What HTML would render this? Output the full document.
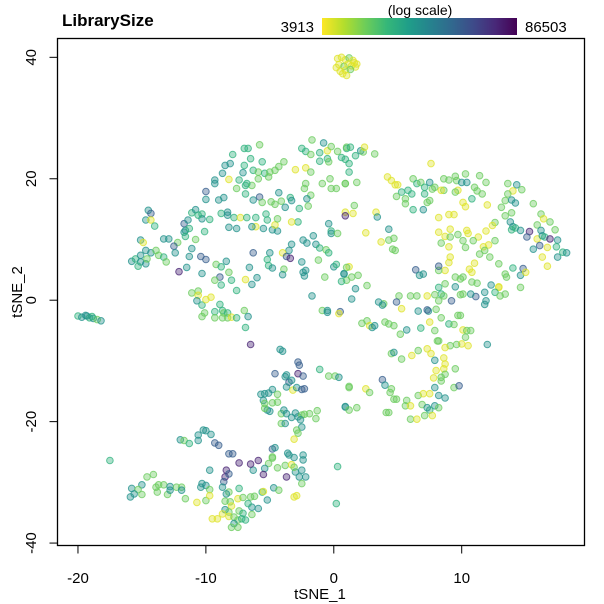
<!DOCTYPE html>
<html><head><meta charset="utf-8"><style>
html,body{margin:0;padding:0;background:#fff;}
svg{display:block;font-family:"Liberation Sans",Arial,sans-serif;}
</style></head><body>
<svg id="chart" width="604" height="604" viewBox="0 0 604 604">
<defs>
<linearGradient id="vir" x1="0" x2="1" y1="0" y2="0">
<stop offset="0" stop-color="#FDE725"/><stop offset="0.111" stop-color="#B4DE2C"/><stop offset="0.222" stop-color="#6DCD59"/><stop offset="0.333" stop-color="#35B779"/><stop offset="0.444" stop-color="#1F9E89"/><stop offset="0.556" stop-color="#26828E"/><stop offset="0.667" stop-color="#31688E"/><stop offset="0.778" stop-color="#3E4A89"/><stop offset="0.889" stop-color="#482878"/><stop offset="1" stop-color="#440154"/>
</linearGradient>
</defs>
<text x="62" y="26" font-size="17" font-weight="bold">LibrarySize</text>
<text x="420" y="15" font-size="14" text-anchor="middle">(log scale)</text>
<rect x="322" y="18" width="195" height="17" fill="url(#vir)"/>
<text x="314" y="32" font-size="15" text-anchor="end">3913</text>
<text x="525" y="32" font-size="15">86503</text>
<g id="points"></g>
<rect x="57.5" y="38.5" width="527" height="507" fill="none" stroke="#000" stroke-width="1.3"/>
<g id="axes"></g>
<text x="320" y="599" font-size="15" text-anchor="middle">tSNE_1</text>
<text transform="translate(22,292) rotate(-90)" font-size="15" text-anchor="middle">tSNE_2</text>
</svg>
<script>
const xTicks = [-20, -10, 0, 10];
const yTicks = [-40, -20, 0, 20, 40];
const libMin = 3913, libMax = 86503;
const topCluster = [[0.3,39.8,4500],[0.6,40.0,4500],[0.9,39.6,4500],[1.2,39.9,8000],[1.5,39.5,4500],[1.8,38.9,4500],[0.4,38.8,4500],[0.8,38.5,8000],[1.1,38.9,4500],[1.4,38.6,4500],[1.7,38.4,4500],[0.5,37.7,4500],[0.9,37.9,4500],[1.3,38.0,8000],[0.7,37.3,4500],[1.0,37.0,4500],[1.6,39.1,4500],[0.2,38.3,4500]];
const farLeftCluster = [[-20.0,-2.6,12000],[-19.7,-2.8,18000],[-19.4,-2.5,18000],[-19.1,-2.9,12000],[-18.8,-3.0,18000],[-18.5,-3.2,8000],[-18.2,-3.4,18000],[-18.9,-2.7,12000],[-19.3,-2.6,18000]];
const westRegion = [[-1.7,26.4,8000],[-0.8,25.9,18000],[-5.8,25.6,8000],[-7.0,25,12000],[-6.7,25,12000],[-7.9,24,12000],[-2.5,25,12000],[-2.2,24.5,12000],[-1.8,24,8000],[-1.1,24.3,12000],[-0.5,24.6,4500],[-0.2,25.3,8000],[0.3,24.5,8000],[1.0,25,12000],[0.6,23.5,12000],[0.9,23.2,12000],[-0.5,23.3,12000],
[-8.5,22.2,18000],[-8.1,22.5,18000],[-8.7,20.9,18000],[-9.3,19.8,18000],[-9.3,19.2,18000],[-10,17.9,35000],[-10,16.6,18000],[-7.1,21,18000],[-8.2,19.9,4500],
[-7,22.2,12000],[-6.5,23.3,12000],[-5.6,22.8,12000],[-6.3,21.4,12000],[-5.9,21.1,8000],[-5.4,20.9,12000],[-5,21.1,8000],[-4.6,21.4,8000],[-4.3,22,8000],[-3.9,22.8,8000],[-5.1,20.3,8000],
[-7.4,19.8,12000],[-6.9,18.9,12000],[-6.4,18.9,8000],[-7.6,18.4,8000],[-5.9,20,8000],[-6.8,19.2,12000],
[-3,21.5,4500],[-2.2,21.8,4500],[-1.8,21.1,8000],[-1.1,22.9,12000],[-0.4,22.8,8000],[-2.2,19.2,8000],[-2.3,18.4,8000],[-1.8,17.3,8000],[-0.9,19.2,8000],[-0.3,20,8000],[-0.2,18.4,8000],[0.2,18.4,8000],[0.9,19.2,8000],
[-6.9,17.5,12000],[-6.3,16.5,18000],[-5.8,17,35000],[-5.6,16.1,8000],[-4.9,16.2,8000],[-4.6,15.8,8000],[-4.3,17.7,18000],[-4.1,16.3,8000],[-3.8,15.3,18000],[-3.4,16.9,12000],[-3.3,16.4,18000],[-2.7,15.1,12000],[-2.1,16.7,18000],[-2,15.5,8000],[-2.8,12.9,12000],[-3.3,12.9,4500],
[-9.0,16.5,18000],[-8.6,16.9,18000],[-8.8,14.3,12000],[-8.3,14.5,18000],[-8.3,14,18000],[-7.8,13.6,12000],
[-7.3,13.6,4500],[-6.8,13.6,12000],[-6.1,13.6,12000],[-6.1,12.1,4500],[-6.4,12.1,18000],[-5.5,11.8,18000],[-5.2,13.2,12000],[-5.3,14.2,12000],[-4.8,11.6,18000],[-4.4,11.4,18000],[-4.6,12.4,4500],[-4.4,13.4,8000],
[-8.2,12,18000],[-7.6,11.8,18000],
[-11.1,14.4,12000],[-10.8,14.9,18000],[-10.3,14.2,12000],[-10.3,13.4,18000],[-9.7,13.3,12000],[-10.6,14,12000],
[-11.7,12.6,35000],[-11.4,13.2,18000],[-11.6,11.5,18000],[-11.7,11.2,18000],[-11.6,10.5,12000],[-11.3,11.8,12000],[-10.8,10,8000],[-10.1,11.3,12000],
[-14.5,14.8,18000],[-14.3,14.3,35000],[-14.7,13.2,18000],[-14.3,13.2,4500],[-14,12.2,12000],[-15.1,9.9,18000],[-14.9,9.5,4500],[-13.3,10.1,18000],[-12.9,10.1,18000],
[-12.2,9.5,8000],[-12.5,8.9,35000],[-12.4,7.8,18000],
[-15.8,6.4,18000],[-15.5,6.8,12000],[-15.1,7.4,18000],[-14.7,8.2,18000],[-14.3,7.8,18000],[-13.9,8.2,8000],[-15.1,6.3,18000],[-15.3,5.6,12000],[-14.7,6,18000],[-14.6,6.8,8000],[-13.7,7.4,8000],[-13.3,7.1,12000],[-13.1,6.3,8000],
[-12.1,4.7,65000],[-11.5,5.4,18000],[-11.3,7.2,18000],[-11.1,8.5,18000],[-10.4,7.2,35000],[-10.0,6.7,35000],[-10.3,4.4,18000],
[-9.2,5.9,8000],[-8.8,5.5,12000],[-8.9,3.8,35000],[-9.3,3.3,8000],[-8.8,2.5,12000],[-8.2,4.6,8000],[-8,3.3,12000],[-8.4,6.4,18000],
[-7.6,1.6,12000],[-6.9,3.4,4500],[-6.6,5.4,18000],[-6.4,2.6,18000],[-6,3.7,18000],
[-6.3,7.8,35000],[-5,7.8,18000],[-5.2,6.7,12000],[-5.1,5.7,12000],[-4.8,5.3,18000],[-3.9,5.1,8000],[-4,4.2,18000],[-3.5,8.2,18000],[-3.3,9.2,18000],[-4,7.8,4500],[-3.7,7.2,35000],[-3.4,6.9,65000],
[-2.4,9.9,18000],[-2.1,9.4,18000],[-1.6,10.6,18000],[-1.4,9.2,18000],[-1.1,8.6,12000],[-0.6,8.3,8000],[-0.4,7.8,12000],[-0.2,11.4,12000],[-0.2,11,18000],[0.3,11,8000],[-0.4,12.6,18000],
[-2.5,6.3,18000],[-2.2,4.9,18000],[-2.4,4.6,18000],[-2.3,4,18000],[-1.2,6.6,8000],[-0.7,3.8,8000],[0,5.5,18000],[0.2,5.9,12000],[0.8,4.4,18000],[1,3.3,8000],[0.6,3.1,12000],[1.2,5.5,4500],
[-1.7,0.7,18000],[-0.9,-1.7,8000],[-0.5,-1.7,18000],[-0.5,-2,18000],[0.5,-1.9,35000],[0.4,-2.2,4500],
[-11.1,1.2,8000],[-10.6,1.5,8000],[-10.6,0.8,4500],[-10.7,-0.1,18000],[-10.3,-0.8,12000],[-9.6,0.5,4500],[-10,0.1,4500],[-8.9,-0.7,12000],
[-10.1,-2.1,8000],[-10.3,-2.7,8000],[-9.3,-1.9,12000],[-9.3,-2.9,8000],[-8.7,-1.7,12000],[-8.6,-2.1,8000],[-8.3,-2.1,12000],[-8.3,-2.9,8000],[-8.7,-2.9,8000],[-8,-2.8,4500],[-7.6,-2.9,12000],[-7,-1.7,8000],[-6.7,-2.7,18000],[-6.9,-4.5,12000],[-6.5,-7.3,65000]];
const eastRegion = [[1,25.2,8000],[1.3,25.2,12000],[1.7,23.8,12000],[2.1,24.6,18000],[2.3,24.4,8000],[2.4,25.2,4500],[3.2,24.1,8000],[1.2,22.5,12000],[1.2,21.1,12000],[0.9,19.2,8000],[1.8,19.4,8000],[7.6,22.5,4500],
[4.2,20.3,4500],[4.5,19.7,4500],[4.8,19,4500],[5,19,4500],[5.3,17.8,12000],[4.9,17.1,8000],[5.6,16.7,8000],[5.6,15.9,8000],[5.8,18.1,12000],[6.1,17.5,12000],[6.2,20,8000],[6.5,19.2,12000],[6.8,19.4,8000],[7.1,18.6,12000],[7.5,19.4,18000],[7.7,18.3,8000],[7.9,18.6,8000],[7.1,17.5,12000],[7.3,16.1,8000],[7.5,16.4,8000],[7,14.9,18000],[6.2,14.9,12000],
[8.6,20,8000],[9,19.8,8000],[9.5,20.4,8000],[9.6,19.7,8000],[10,19.4,18000],[10.3,20.8,8000],[10.4,19.4,18000],[9.7,18.1,4500],[9.5,17.8,8000],[8.6,18.1,8000],[8.4,18.1,4500],[10.8,16.7,12000],[11,18.6,8000],[11.2,18,8000],[11.4,20.5,8000],[11.6,17.5,8000],[11.9,19.4,8000],[12,15.7,4500],
[10.1,16.1,4500],[10.3,15.4,4500],[8.2,13.6,4500],[9,14.1,4500],[9.4,14.1,4500],[8.2,11.2,4500],[8.7,10.5,4500],[9.1,11.7,4500],[9.7,10.8,8000],[9.1,10.4,8000],
[13.6,19.2,8000],[14.3,19,18000],[14.7,18.2,8000],[14,18,4500],[13.6,17.5,8000],[13.4,16.4,8000],[13.9,16.5,18000],[14.2,16,18000],[13.1,15.3,8000],[13.9,14.4,8000],[13.4,13.9,8000],[13.8,12.9,18000],[14,12.1,18000],[14.2,11.9,12000],[14.6,11.5,18000],[13.9,11.6,12000],
[15.6,15.9,8000],[16.2,14.2,8000],[16.4,13.4,4500],[16.9,12.9,8000],[15.9,12.4,8000],[16.2,11.5,18000],[15.3,11.3,65000],[15.9,10.1,4500],[16.3,10.6,18000],[16.5,10.4,12000],[16.9,10.1,65000],[17.3,11.6,8000],[17.5,9.9,18000],[17.4,8.8,12000],[17.5,7.1,18000],[17.9,7.9,12000],[18.2,7.8,18000],[16.3,7.1,4500],[15.6,8.4,18000],[16.1,9,35000],[16.7,5.6,4500],[15.1,10.4,35000],[16.7,8.7,4500],
[12.6,12.8,8000],[12.4,12.3,4500],[11.9,11.4,4500],[11.3,10.4,4500],[10.9,9.8,8000],[11.7,8.8,4500],[12.1,9.1,4500],[11.8,8.2,8000],[12.2,7.1,8000],[12.6,9.8,8000],[11.4,7.6,8000],[10.4,11.5,4500],[10.5,11,4500],[10.1,9.8,8000],[10.3,8.7,8000],[9,8.8,4500],[8.4,9.4,8000],
[12.9,6,8000],[13.4,4.3,8000],[13.5,3.8,8000],[14,5.3,12000],[14.6,4.1,18000],[14.8,5.2,35000],[15,4.6,4500],[14.6,2.1,8000],[12.9,2.1,4500],
[9.1,7.1,4500],[9,6.2,4500],[8.7,4.9,4500],[8.2,4.9,8000],[8.7,2.7,8000],[8.2,2.1,12000],[8.4,1,12000],[8.2,-0.1,8000],
[6.4,5,35000],[6.7,4.1,18000],[7,4.3,18000],[8.2,5.6,35000],[11,6.1,4500],[10.6,5.1,4500],[10.8,4.6,4500],[9.5,3.8,8000],[9.9,3.5,8000],[10.1,3.8,8000],[10.8,3,8000],[11.2,2.8,8000],
[12.3,2.5,18000],[12.9,2.2,4500],[12.6,1.3,12000],[13,0.7,8000],[13.4,1,8000],[11.8,1.3,18000],[11.9,-0.1,18000],[11.8,-0.7,18000],[11.1,0.6,35000],[10.7,1,18000],[10.1,1,8000],[9.9,0.9,8000],[9.5,2.2,18000],
[7.9,0.9,8000],[7.3,0.7,4500],[6.5,0.7,8000],[6,0.7,8000],[5.1,0.7,8000],[9.2,-0.1,35000],[8.6,0.7,8000],[8,-1.5,8000],
[7.4,-1.8,18000],[7.3,-1.6,35000],[6.6,-1.8,18000],[5.3,-1.4,4500],[4.9,-0.3,35000],[3.9,-0.6,8000],[3.8,-0.8,18000],[3.5,-0.3,18000],
[2.6,-3.4,8000],[2.2,-3.8,8000],[2.8,-4.2,4500],[3.2,-4.2,18000],[3,-4.5,18000],[4,-3.6,8000],[4.3,-3.9,8000],[4.7,-4.2,8000],[5.2,-5.6,8000],[5.7,-4.9,18000],[6.8,-4.6,12000],[7.5,-3.6,4500],[7.9,-5,8000],[8.4,-2.9,8000],[9,-3.9,12000],[9.4,-4,8000],[9.7,-2.5,8000],[9.9,-2.5,8000],
[10.1,-4.9,4500],[10.4,-5,8000],[10.7,-5,8000],[10.3,-6.1,8000],[10,-7.2,4500],[10.5,-7.5,4500],[9.6,-7.3,8000],[9.1,-7.5,8000],[8.7,-7.8,4500],[8.2,-6.7,8000],[8.1,-6.7,8000],[12,-7.3,18000],
[4.5,-8.8,8000],[4.7,-8.6,18000],[5.3,-9.7,8000],[6.1,-9.1,4500],[6.6,-8.3,8000],[7.3,-8,4500],[7.6,-8.8,4500],[7.9,-9.9,18000],[8.6,-9.5,4500],[8.7,-10.5,4500],[8.6,-11.3,4500],[8.4,-12.7,8000],[8,-11.6,4500],[9.5,-11.3,8000],[9.4,-14.4,8000],[9.8,-14.1,35000],
[1.2,-14.4,8000],[2.5,-14.6,4500],[2.8,-15.2,8000],[3.8,-13.1,35000],[4,-14,18000],[4.5,-14.6,8000],[4.4,-15.2,8000],[4.9,-16.3,8000],[5.7,-16.5,8000],[4.7,-16.3,8000],[5.6,-17.4,8000],[6,-17.4,4500],[6.9,-17.2,8000],[6.6,-15.7,8000],[7,-15.4,4500],[7.5,-15.4,4500],[7.8,-12.8,4500],[8.4,-13.3,8000],[8.7,-12.2,8000],[7.9,-14.4,18000],[8.2,-15.7,18000],[8.7,-16.1,18000],[7.9,-17.4,18000],[7.5,-18.1,12000],[8.2,-17.7,8000],
[0.9,-17.6,18000],[1.8,-17.7,8000],[4.1,-18.5,8000],[4.3,-18.5,8000],[6,-19.6,8000],[6.5,-19.6,4500],[7.1,-19,8000],[7.7,-19,4500],[7.3,-17.7,18000],
[0.9,14.5,4500],[1.5,14.3,4500],[0.9,13.9,65000],[1.6,15.6,8000],[3.3,14.5,4500],[3.4,13.7,18000],[2.5,11.1,4500],[3.7,9.6,4500],[4.3,9.9,8000],[4.7,10.2,8000],[4.3,11.7,18000],[4.6,8.4,8000],[4.8,8.2,8000],
[1,5.4,8000],[0.8,4.3,18000],[1.4,3.8,8000],[1.9,4.1,8000],[2.6,2.4,8000],[1.7,1.9,18000],[1.4,0.2,18000]];
const southRegion = [[-4.2,-8.1,18000],[-4,-8.4,18000],[-1.1,-11.4,12000],[-0.4,-12.5,8000],[0.1,-12.5,8000],[0.4,-12.7,18000],[1.2,-14.2,8000],[0.9,-17.5,18000],[1.2,-18.1,8000],
[-2.8,-10.2,35000],[-2.7,-10.7,35000],[-4.6,-12.1,35000],[-3.8,-12.6,18000],[-3.7,-12.3,18000],[-2.8,-12.1,65000],[-2.4,-12.5,35000],[-3.5,-13.5,35000],[-3.3,-13.2,18000],[-3.7,-14.3,18000],[-3.2,-14.8,4500],[-2.9,-14.4,18000],[-2.5,-14.7,35000],[-2.3,-14.6,35000],
[-5.7,-15.5,18000],[-5.4,-15.4,18000],[-5.1,-15.3,18000],[-4.8,-14.7,18000],[-4.4,-15.5,8000],[-5.5,-16.5,18000],[-5.4,-17,8000],[-4.8,-16.9,8000],[-4.4,-16.8,8000],[-5.2,-18.1,18000],[-5.0,-18.3,18000],[-5.4,-17.8,8000],
[-4.1,-18.7,8000],[-3.9,-18.1,18000],[-3.7,-18.7,18000],[-3.3,-19.3,18000],[-3,-18.6,18000],[-2.8,-19.2,18000],[-2.5,-18.9,8000],[-2.3,-18.8,8000],[-1.9,-18.7,8000],[-1.3,-18.2,8000],[-1.4,-19.5,8000],[-2.6,-19.7,18000],[-2.5,-20.9,18000],[-4.1,-20.3,8000],[-3.8,-20.3,18000],
[-2.9,-21.4,8000],[-2.8,-21.9,8000],[-3.1,-22.9,4500],
[-12,-23,18000],[-11.7,-23.1,8000],[-11.3,-23.6,12000],[-10.6,-22.2,18000],[-10.2,-21.4,18000],[-10,-21.5,18000],[-9.6,-22.1,18000],[-10.6,-23.1,18000],[-9.3,-23.5,35000],[-9,-23.9,35000],
[-17.5,-26.4,12000],[-8.2,-25.3,35000],[-7.9,-25.3,35000],[-4.8,-24.5,35000],[-4.6,-24.3,18000],
[-3.6,-25.2,18000],[-3.5,-25.5,18000],[-3.1,-25.9,18000],[-2.4,-25.5,18000],[-2.4,-26.3,18000],[-4.8,-25.8,8000],[-5.1,-26.9,8000],[-5.4,-27.7,18000],[-4.8,-26,8000],[-6.3,-28,18000],[-5.9,-26.4,65000],[-6.5,-27,65000],[-7.4,-26.8,65000],[-5.5,-28.7,65000],[-3.7,-29.1,65000],[-4.4,-27.6,8000],[-3.8,-27.2,8000],[-3.3,-27.1,4500],[-3,-28.3,18000],[-3.1,-27.5,8000],[-2.5,-28,18000],[-2.7,-29.1,18000],[-2.5,-30.2,8000],[-2.2,-29.1,18000],
[-9.7,-28,18000],[-8.4,-28,65000],[-8.5,-29.1,65000],[-8.2,-28.6,35000],[-8.6,-29.9,35000],[-8.7,-30.8,18000],[-7.4,-31,12000],[-8.2,-31.6,8000],[-8.4,-31.9,18000],
[-10.3,-30.2,18000],[-10,-30.5,18000],[-9.7,-31.2,8000],[-10.4,-30.8,18000],
[-14.6,-29.1,8000],[-14.1,-28.7,8000],[-15.8,-31,18000],[-15.9,-32.4,18000],[-15,-30.4,18000],[-15.3,-31.2,8000],[-15,-32,8000],[-15.6,-31.9,18000],
[-13.9,-30.8,8000],[-13.7,-30.4,8000],[-13.3,-30.4,8000],[-12.8,-30.7,18000],[-12.3,-30.8,8000],[-11.9,-30.8,8000],[-13.8,-31.6,8000],[-13.0,-32,8000],[-12.8,-31.3,18000],[-11.6,-32.7,8000],[-11.9,-31.3,18000],
[-10.7,-33.3,4500],[-10.0,-33,8000],[-9.7,-32.2,4500],
[-7.5,-32.7,4500],[-7.1,-32.5,8000],[-6.5,-32.4,8000],[-6.2,-32.3,8000],[-5.6,-31.6,12000],[-5.2,-32.9,18000],[-4.7,-30.9,18000],[-4.3,-31.3,8000],[-5.5,-31.5,4500],
[-8.5,-33.1,8000],[-8.1,-33.2,8000],[-8,-33.9,4500],[-8.5,-34.5,18000],[-8.2,-34.9,8000],[-7.4,-34.7,8000],[-7.1,-35.1,12000],[-6.4,-35.3,8000],[-5.9,-34.3,18000],[-6.4,-34.1,18000],[-6.7,-33.5,12000],
[-9.5,-36,4500],[-9.1,-36,4500],[-8.7,-35.2,4500],[-8.2,-35.6,4500],[-7.8,-35.7,8000],[-7.5,-36.2,8000],[-7.2,-36,12000],[-6.9,-36.2,12000],[-7.8,-36.8,18000],[-8,-37.4,8000],[-7.5,-37.4,8000],
[-3.1,-32.4,4500],[-2.9,-32.2,4500],[0.3,-27.4,12000],[0.2,-33.5,12000]];

// axis functions
const X0 = 57.5, X1 = 584.5, Y0 = 38.5, Y1 = 545.5;
const xDom = [-21.6, 19.6], yDom = [-40.4, 43.1];
function sx(v){ return X0 + (v - xDom[0]) / (xDom[1] - xDom[0]) * (X1 - X0); }
function sy(v){ return Y1 - (v - yDom[0]) / (yDom[1] - yDom[0]) * (Y1 - Y0); }
const vir = [[253,231,37],[180,222,44],[109,205,89],[53,183,121],[31,158,137],[38,130,142],[49,104,142],[62,74,137],[72,40,120],[68,1,84]];
function color(v){
  let t = (Math.log(v) - Math.log(libMin)) / (Math.log(libMax) - Math.log(libMin));
  t = Math.max(0, Math.min(1, t)) * (vir.length - 1);
  const i = Math.min(vir.length - 2, Math.floor(t)), f = t - i;
  return vir[i].map((a, k) => Math.round(a + (vir[i+1][k] - a) * f));
}
const NS = "http://www.w3.org/2000/svg";
const gp = document.getElementById("points");
const allPts = [].concat(topCluster, farLeftCluster, westRegion, eastRegion, southRegion);
allPts.forEach(p => {
  const c = color(p[2]);
  const el = document.createElementNS(NS, "circle");
  el.setAttribute("cx", sx(p[0]).toFixed(1));
  el.setAttribute("cy", sy(p[1]).toFixed(1));
  el.setAttribute("r", "3.3");
  el.setAttribute("fill", `rgba(${c[0]},${c[1]},${c[2]},0.4)`);
  el.setAttribute("stroke", `rgba(${c[0]},${c[1]},${c[2]},0.75)`);
  el.setAttribute("stroke-width", "1");
  
  
  gp.appendChild(el);
});
const ga = document.getElementById("axes");
xTicks.forEach(v => {
  const x = sx(v);
  const l = document.createElementNS(NS, "line");
  l.setAttribute("x1", x); l.setAttribute("x2", x); l.setAttribute("y1", Y1); l.setAttribute("y2", Y1 + 8);
  l.setAttribute("stroke", "#000");
  
  
  ga.appendChild(l);
  const t = document.createElementNS(NS, "text");
  t.setAttribute("x", x); t.setAttribute("y", 583); t.setAttribute("font-size", "15"); t.setAttribute("text-anchor", "middle");
  t.textContent = v;
  
  
  ga.appendChild(t);
});
yTicks.forEach(v => {
  const y = sy(v);
  const l = document.createElementNS(NS, "line");
  l.setAttribute("x1", X0 - 8); l.setAttribute("x2", X0); l.setAttribute("y1", y); l.setAttribute("y2", y);
  l.setAttribute("stroke", "#000");
  
  
  ga.appendChild(l);
  const t = document.createElementNS(NS, "text");
  t.setAttribute("transform", `translate(36,${y}) rotate(-90)`);
  t.setAttribute("font-size", "15"); t.setAttribute("text-anchor", "middle");
  t.textContent = v;
  
  
  ga.appendChild(t);
});
</script>
</body></html>
